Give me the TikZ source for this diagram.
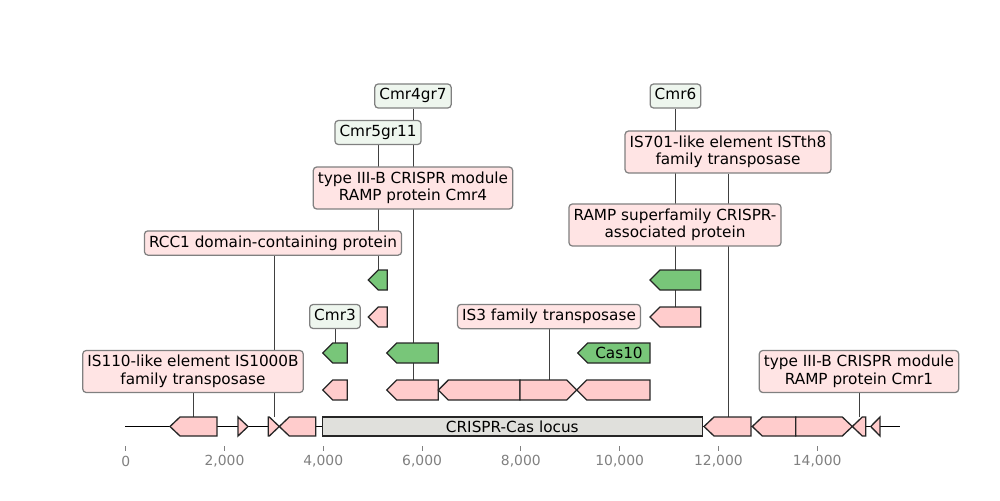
\documentclass[tikz,border=0pt]{standalone}
\usepackage{fontspec}
\setmainfont{DejaVu Sans}
\usetikzlibrary{backgrounds}
\definecolor{lblpink}{RGB}{255,228,228}
\definecolor{lblgreen}{RGB}{238,246,238}
\definecolor{lblborder}{RGB}{128,128,128}
\definecolor{featpink}{RGB}{255,204,204}
\definecolor{featgreen}{RGB}{120,198,121}
\definecolor{locusgray}{RGB}{224,224,220}
\definecolor{leadgray}{RGB}{64,64,64}
\definecolor{axisgray}{RGB}{128,128,128}
\newcommand{\tstrut}{\rule{0pt}{8.2pt}}
\newcommand{\bstrut}{\rule[-2.5pt]{0pt}{2.5pt}}
\tikzset{
  lbl/.style={draw=lblborder, line width=0.9pt, rounded corners=2.5pt, inner sep=3.3pt,
    font=\fontsize{11}{12.8}\selectfont, align=center},
  lblp/.style={lbl, fill=lblpink},
  lblg/.style={lbl, fill=lblgreen},
  feat/.style={draw=black!85, line width=0.95pt, line join=miter},
  lead/.style={draw=leadgray, line width=0.6pt},
  ticklbl/.style={text=axisgray, font=\fontsize{10}{12}\selectfont, inner sep=0pt}
}
% left-pointing gene: tip x0, end x1, centre y, half height hh, colour
\newcommand{\geneL}[5]{%
  \pgfmathsetmacro{\hd}{min(10,#2-#1)}%
  \path[feat, fill=#5] (#1,#3) -- (#1+\hd,#3-#4) -- (#2,#3-#4) -- (#2,#3+#4) -- (#1+\hd,#3+#4) -- cycle;}
% right-pointing gene: start x0, tip x1
\newcommand{\geneR}[5]{%
  \pgfmathsetmacro{\hd}{min(10,#2-#1)}%
  \path[feat, fill=#5] (#2,#3) -- (#2-\hd,#3-#4) -- (#1,#3-#4) -- (#1,#3+#4) -- (#2-\hd,#3+#4) -- cycle;}
\begin{document}
\begin{tikzpicture}[x=0.72pt,y=-0.72pt]
\useasboundingbox (0,0) rectangle (1000,500);
% backbone
\draw[line width=1.4pt] (125,426.5) -- (900,426.5);
% axis
\foreach \v/\t in {0/0,2000/{2,000},4000/{4,000},6000/{6,000},8000/{8,000},10000/{10,000},12000/{12,000},14000/{14,000}}{
  \pgfmathsetmacro{\xx}{125.7+0.0494*\v}
  \draw[axisgray, line width=0.6pt] (\xx,446) -- (\xx,450.5);
  \node[ticklbl] at (\xx,461.5) {\t};
}
% backbone genes
\geneL{170}{217}{426.5}{9.5}{featpink}
\geneR{238}{248}{426.5}{9.5}{featpink}
\geneR{268.3}{279.3}{426.5}{9.5}{featpink}
\geneL{279.3}{315.7}{426.5}{9.5}{featpink}
\node[feat, fill=locusgray, minimum width=380pt*0.72, minimum height=19pt*0.72, inner sep=0pt,
  font=\fontsize{11}{12.8}\selectfont] (locus) at (512.3,426.5) {CRISPR-Cas locus};
\geneL{704}{751}{426.5}{9.5}{featpink}
\geneL{752.3}{795.7}{426.5}{9.5}{featpink}
\geneR{795.7}{852.3}{426.5}{9.5}{featpink}
\geneL{852.3}{865.7}{426.5}{9.5}{featpink}
\geneL{870.7}{880}{426.5}{9.5}{featpink}
% row 1
\geneL{368.3}{387.3}{280}{10}{featgreen}
\geneL{650}{700.7}{280}{10}{featgreen}
% row 2
\geneL{368.3}{387.3}{317}{10}{featpink}
\geneL{650}{700.7}{317}{10}{featpink}
% row 3
\geneL{322.7}{347.3}{353}{10}{featgreen}
\geneL{386.7}{438.3}{353}{10}{featgreen}
\geneL{577.7}{650}{353}{10}{featgreen}
\node[font=\fontsize{11}{12.8}\selectfont, inner sep=0pt] (cas10) at (619,353) {Cas10};
% row 4
\geneL{322.7}{347.3}{390}{10}{featpink}
\geneL{386.7}{438.3}{390}{10}{featpink}
\geneL{438.3}{520}{390}{10}{featpink}
\geneR{520}{576.7}{390}{10}{featpink}
\geneL{576.7}{650}{390}{10}{featpink}
% connector ends (top of genes)
\coordinate (gIS110) at (193,417);
\coordinate (gRCC1) at (274,417);
\coordinate (gCmr3) at (335,343);
\coordinate (gCmr5) at (378,270);
\coordinate (gCmr4g) at (413,343);
\coordinate (gCmr4) at (413,380);
\coordinate (gIS3) at (549,380);
\coordinate (gCmr6) at (675.5,270);
\coordinate (gRAMP) at (675.5,307);
\coordinate (gIS701) at (728.3,417);
\coordinate (gCmr1) at (859,417);
% labels
\node[lblg] (Lcmr4gr7) at (413,96) {\tstrut Cmr4gr7\bstrut};
\node[lblg] (Lcmr6) at (675.5,96) {\tstrut Cmr6\bstrut};
\node[lblg] (Lcmr5gr11) at (378,132.5) {\tstrut Cmr5gr11\bstrut};
\node[lblp] (Lis701) at (728,152) {\tstrut IS701-like element ISTth8\\family transposase\bstrut};
\node[lblp] (Lcmr4) at (413,188) {\tstrut type III-B CRISPR module\\RAMP protein Cmr4\bstrut};
\node[lblp] (Lramp) at (675,225) {\tstrut RAMP superfamily CRISPR-\\associated protein\bstrut};
\node[lblp] (Lrcc1) at (273,243) {\tstrut RCC1 domain-containing protein\bstrut};
\node[lblg] (Lcmr3) at (335,316.5) {\tstrut Cmr3\bstrut};
\node[lblp] (Lis3) at (549,316.5) {\tstrut IS3 family transposase\bstrut};
\node[lblp] (Lis110) at (193,371.5) {\tstrut IS110-like element IS1000B\\family transposase\bstrut};
\node[lblp] (Lcmr1) at (859,371.5) {\tstrut type III-B CRISPR module\\RAMP protein Cmr1\bstrut};
% connectors behind everything
\begin{pgfonlayer}{background}
\draw[lead] (Lis110.south -| gIS110) -- (gIS110);
\draw[lead] (Lrcc1.south -| gRCC1) -- (gRCC1);
\draw[lead] (Lcmr3.south) -- (gCmr3);
\draw[lead] (Lcmr5gr11.south -| gCmr5) -- (gCmr5);
\draw[lead] (Lcmr4gr7.south -| gCmr4g) -- (gCmr4g);
\draw[lead] (Lcmr4.south -| gCmr4) -- (gCmr4);
\draw[lead] (Lis3.south -| gIS3) -- (gIS3);
\draw[lead] (Lcmr6.south -| gCmr6) -- (gCmr6);
\draw[lead] (Lramp.south -| gRAMP) -- (gRAMP);
\draw[lead] (Lis701.south -| gIS701) -- (gIS701);
\draw[lead] (Lcmr1.south -| gCmr1) -- (gCmr1);
\end{pgfonlayer}
\end{tikzpicture}
\end{document}
